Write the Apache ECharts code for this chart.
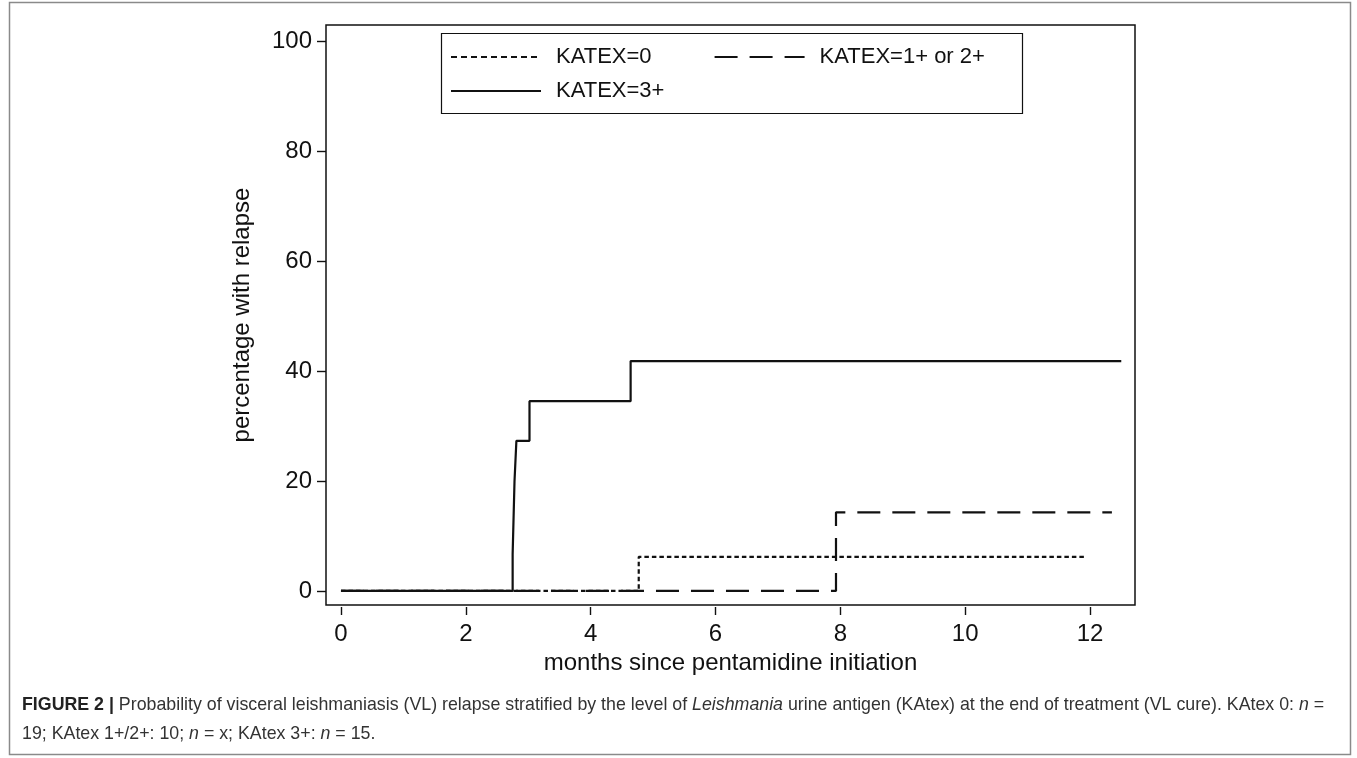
<!DOCTYPE html>
<html>
<head>
<meta charset="utf-8">
<title>VL relapse by KAtex</title>
<script src="https://cdn.jsdelivr.net/npm/echarts@6/dist/echarts.min.js"></script>
<style>
  html, body { margin: 0; padding: 0; background: #fff; }
  #chart { width: 1357px; height: 758px; }
</style>
</head>
<body>
<div id="chart"></div>
<script>
// step points [months, % relapse], value holds from x onward
const katex0 = [[0, 0], [4.77, 6.2], [11.92, 6.2]];
const katex12 = [[0, 0], [7.93, 14.3], [12.35, 14.3]];
const katex3 = [[0, 0], [2.75, 6.7], [2.78, 20], [2.81, 27.3], [3.02, 34.5], [4.64, 41.8], [12.5, 41.8]];

const seriesNames = ['KATEX=0', 'KATEX=1+ or 2+', 'KATEX=3+'];
const xTicks = [0, 2, 4, 6, 8, 10, 12];
const yTicks = [0, 20, 40, 60, 80, 100];

const font = '"Liberation Sans", Arial, sans-serif';
const chart = echarts.init(document.getElementById('chart'));

function stepLine(name, data, dash, z) {
  return {
    name: name,
    type: 'line',
    step: 'end',
    data: data,
    symbol: 'none',
    z: z,
    lineStyle: { color: '#111', width: 2.2, type: dash }
  };
}

const legendCommon = {
  orient: 'horizontal',
  padding: 0,
  itemWidth: 90,
  itemHeight: 14,
  itemGap: 62,
  itemStyle: { opacity: 0 },
  textStyle: { fontFamily: font, fontSize: 22, color: '#111', padding: [0, 0, 0, 10] }
};

const option = {
  animation: false,
  backgroundColor: '#fff',
  grid: {
    left: 326, right: 222, top: 25, bottom: 153,
    show: true, borderColor: '#111', borderWidth: 1.5, backgroundColor: '#fff'
  },
  legend: [
    Object.assign({}, legendCommon, {
      left: 450, top: 46,
      data: [
        { name: seriesNames[0], lineStyle: { type: [6, 4] } },
        seriesNames[1]
      ]
    }),
    Object.assign({}, legendCommon, { left: 450, top: 80, data: [seriesNames[2]] })
  ],
  xAxis: {
    type: 'value',
    min: -0.24,
    max: 12.72,
    offset: 2,
    name: 'months since pentamidine initiation',
    nameLocation: 'middle',
    nameGap: 40,
    nameTextStyle: { fontFamily: font, fontSize: 24, color: '#111' },
    axisLine: { show: false, onZero: false },
    axisTick: { show: true, length: 8, customValues: xTicks, lineStyle: { color: '#111', width: 1.4 } },
    axisLabel: { customValues: xTicks, fontFamily: font, fontSize: 24, color: '#111', margin: 15 },
    splitLine: { show: false }
  },
  yAxis: {
    type: 'value',
    min: -2.55,
    max: 102.9,
    name: 'percentage with relapse',
    nameLocation: 'middle',
    nameGap: 72,
    nameTextStyle: { fontFamily: font, fontSize: 24, color: '#111' },
    axisLine: { show: false, onZero: false },
    axisTick: { show: true, length: 9, customValues: yTicks, lineStyle: { color: '#111', width: 1.4 } },
    axisLabel: { customValues: yTicks, fontFamily: font, fontSize: 24, color: '#111', margin: 14 },
    splitLine: { show: false }
  },
  series: [
    stepLine(seriesNames[0], katex0, [4.5, 3], 2),
    stepLine(seriesNames[1], katex12, [23, 12], 3),
    stepLine(seriesNames[2], katex3, 'solid', 4)
  ],
  graphic: [
    {
      type: 'rect', left: 7, top: 0,
      shape: { width: 1341, height: 752 },
      style: { fill: null, stroke: '#8a8a8a', lineWidth: 1.5 }, z: -1
    },
    {
      type: 'rect', left: 439, top: 31,
      shape: { width: 581, height: 80 },
      style: { fill: null, stroke: '#111', lineWidth: 1.2 }
    },
    {
      type: 'text', left: 22, top: 696,
      style: {
        text: '{b|FIGURE 2 |} Probability of visceral leishmaniasis (VL) relapse stratified by the level of {i|Leishmania} urine antigen (KAtex) at the end of treatment (VL cure). KAtex 0: {i|n} =',
        font: '17.8px ' + font, fill: '#333',
        rich: {
          b: { fontWeight: 'bold', fontSize: 17.8, fontFamily: font, fill: '#222' },
          i: { fontStyle: 'italic', fontSize: 17.8, fontFamily: font, fill: '#333' }
        }
      }
    },
    {
      type: 'text', left: 22, top: 725,
      style: {
        text: '19; KAtex 1+/2+: 10; {i|n} = x; KAtex 3+: {i|n} = 15.',
        font: '17.8px ' + font, fill: '#333',
        rich: {
          i: { fontStyle: 'italic', fontSize: 17.8, fontFamily: font, fill: '#333' }
        }
      }
    }
  ]
};

chart.setOption(option);
</script>
</body>
</html>
